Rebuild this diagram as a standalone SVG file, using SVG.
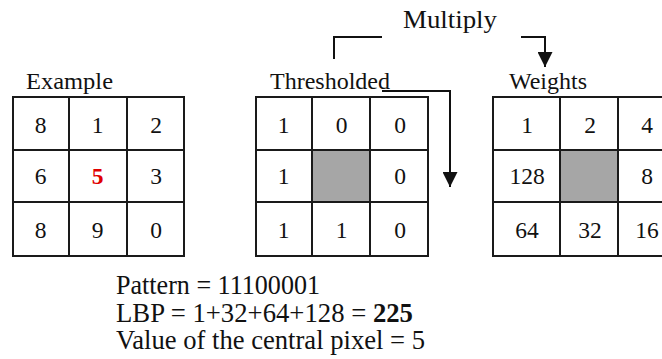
<svg xmlns="http://www.w3.org/2000/svg" width="662" height="359" viewBox="0 0 662 359" font-family="Liberation Serif, DejaVu Serif, serif">
<style>
text{font-family:"Liberation Serif","DejaVu Serif",serif;fill:#111}
.lbl{font-size:23px}
.num{font-size:23.5px;text-anchor:middle}
.bot{font-size:26.3px}
.cell{fill:#fff;stroke:#1a1a1a;stroke-width:2}
.grey{fill:#a6a6a6;stroke:#1a1a1a;stroke-width:2}
.ln{fill:none;stroke:#111;stroke-width:2}
.red{fill:#e00000;font-weight:bold}
</style>
<defs>
<marker id="ah" viewBox="0 0 10 10" refX="10" refY="5" markerWidth="7.5" markerHeight="7.5" markerUnits="strokeWidth" orient="auto">
<path d="M0,0 L10,5 L0,10 Z" fill="#111"/>
</marker>
</defs>
<rect width="662" height="359" fill="#fff"/>

<g id="example" font-family="Liberation Serif, serif">
<text class="lbl" x="26" y="89" textLength="87" lengthAdjust="spacingAndGlyphs" style="font-family:'Liberation Serif',serif">Example</text>
<rect class="cell" x="13" y="97" width="56" height="53"/>
<rect class="cell" x="69" y="97" width="58" height="53"/>
<rect class="cell" x="127" y="97" width="57" height="53"/>
<rect class="cell" x="13" y="150" width="56" height="52"/>
<rect class="cell" x="69" y="150" width="58" height="52"/>
<rect class="cell" x="127" y="150" width="57" height="52"/>
<rect class="cell" x="13" y="202" width="56" height="54"/>
<rect class="cell" x="69" y="202" width="58" height="54"/>
<rect class="cell" x="127" y="202" width="57" height="54"/>
<text class="num" x="40.5" y="133">8</text>
<text class="num" x="97.5" y="133">1</text>
<text class="num" x="156" y="133">2</text>
<text class="num" x="40.5" y="184">6</text>
<text class="num red" x="97.5" y="184">5</text>
<text class="num" x="156" y="184">3</text>
<text class="num" x="40.5" y="238">8</text>
<text class="num" x="97.5" y="238">9</text>
<text class="num" x="156" y="238">0</text>
</g>

<g id="thresholded">
<text class="lbl" x="270" y="89" textLength="120" lengthAdjust="spacingAndGlyphs">Thresholded</text>
<rect class="cell" x="256" y="97" width="56" height="53"/>
<rect class="cell" x="312" y="97" width="58" height="53"/>
<rect class="cell" x="370" y="97" width="58" height="53"/>
<rect class="cell" x="256" y="150" width="56" height="52"/>
<rect class="grey" x="312" y="150" width="58" height="52"/>
<rect class="cell" x="370" y="150" width="58" height="52"/>
<rect class="cell" x="256" y="202" width="56" height="54"/>
<rect class="cell" x="312" y="202" width="58" height="54"/>
<rect class="cell" x="370" y="202" width="58" height="54"/>
<text class="num" x="283.5" y="133">1</text>
<text class="num" x="341.5" y="133">0</text>
<text class="num" x="400" y="133">0</text>
<text class="num" x="283.5" y="184">1</text>
<text class="num" x="400" y="184">0</text>
<text class="num" x="283.5" y="238">1</text>
<text class="num" x="341.5" y="238">1</text>
<text class="num" x="400" y="238">0</text>
</g>

<g id="weights">
<text class="lbl" x="509" y="89" textLength="78" lengthAdjust="spacingAndGlyphs">Weights</text>
<rect class="cell" x="493" y="97" width="67" height="53"/>
<rect class="cell" x="560" y="97" width="58" height="53"/>
<rect class="cell" x="618" y="97" width="58" height="53"/>
<rect class="cell" x="493" y="150" width="67" height="52"/>
<rect class="grey" x="560" y="150" width="58" height="52"/>
<rect class="cell" x="618" y="150" width="58" height="52"/>
<rect class="cell" x="493" y="202" width="67" height="54"/>
<rect class="cell" x="560" y="202" width="58" height="54"/>
<rect class="cell" x="618" y="202" width="58" height="54"/>
<text class="num" x="527" y="133">1</text>
<text class="num" x="590" y="133">2</text>
<text class="num" x="647" y="133">4</text>
<text class="num" x="527" y="184">128</text>
<text class="num" x="647" y="184">8</text>
<text class="num" x="527" y="238">64</text>
<text class="num" x="590" y="238">32</text>
<text class="num" x="647" y="238">16</text>
</g>

<g id="multiply">
<text x="403" y="28" style="font-size:25px" textLength="94" lengthAdjust="spacingAndGlyphs">Multiply</text>
</g>

<g id="connectors">
<path class="ln" d="M334,59 V37 H382"/>
<path class="ln" d="M382,91 H450 V187" marker-end="url(#ah)"/>
<path class="ln" d="M521,37 H545 V67" marker-end="url(#ah)"/>
</g>

<g id="result">
<text class="bot" x="116" y="294" textLength="204" lengthAdjust="spacingAndGlyphs">Pattern = 11100001</text>
<text class="bot" x="116" y="322" textLength="297" lengthAdjust="spacingAndGlyphs">LBP = 1+32+64+128 = <tspan font-weight="bold">225</tspan></text>
<text class="bot" x="116" y="349" textLength="309" lengthAdjust="spacingAndGlyphs">Value of the central pixel = 5</text>
</g>
</svg>
